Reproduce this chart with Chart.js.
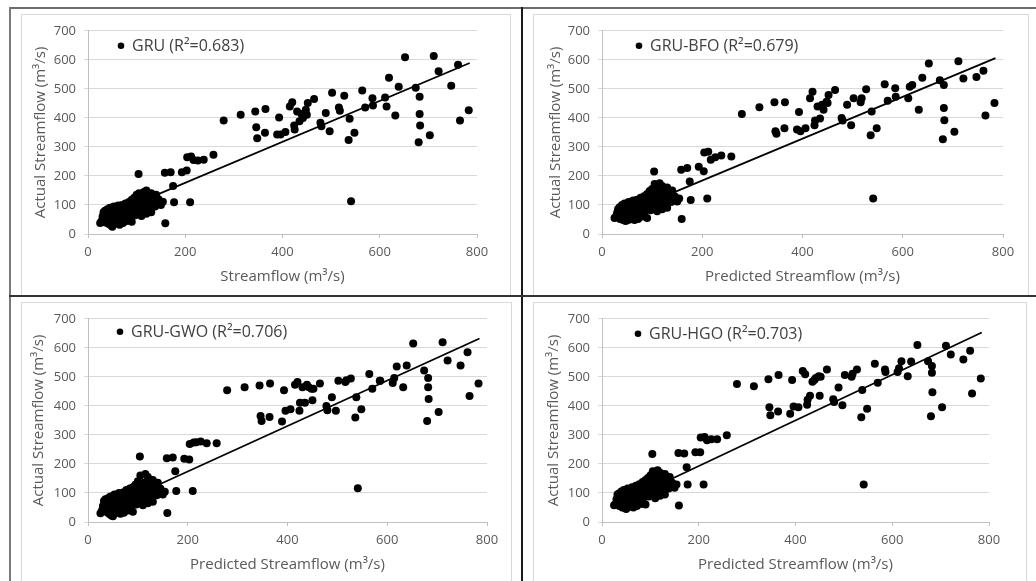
<!DOCTYPE html>
<html>
<head>
<meta charset="utf-8">
<script src="https://cdn.jsdelivr.net/npm/chart.js@4.4.1/dist/chart.umd.min.js"></script>
<style>
  body { margin: 0; background: #fff; width: 1036px; height: 581px; position: relative; overflow: hidden; }
  .line { position: absolute; }
  .box { position: absolute; border: 1px solid #d9d9d9; box-sizing: border-box; }
  canvas { position: absolute; }
</style>
</head>
<body>
<div class="box" style="left:21px;top:14px;width:490px;height:282px"></div>
<div class="box" style="left:533px;top:14px;width:496px;height:282px"></div>
<div class="box" style="left:21px;top:302px;width:491px;height:290px"></div>
<div class="box" style="left:533px;top:302px;width:494px;height:290px"></div>

<canvas id="c1" width="488" height="278" style="left:22px;top:15px"></canvas>
<canvas id="c2" width="494" height="278" style="left:534px;top:15px"></canvas>
<canvas id="c3" width="490" height="278" style="left:22px;top:303px"></canvas>
<canvas id="c4" width="492" height="278" style="left:534px;top:303px"></canvas>

<div class="line" style="left:9px;top:7px;width:1027px;height:2px;background:#6d6d6d"></div>
<div class="line" style="left:9px;top:7px;width:2px;height:574px;background:#7a7a7a"></div>
<div class="line" style="left:521px;top:7px;width:2px;height:574px;background:#1a1a1a"></div>
<div class="line" style="left:9px;top:295px;width:1027px;height:2px;background:#333"></div>

<script>
// dense low-flow cluster, same x for all four models
const clusterX = [25, 28, 30, 32, 33, 35, 36, 38, 40, 40,
  42, 43, 45, 45, 47, 48, 50, 50, 52, 53,
  55, 55, 57, 58, 60, 60, 62, 63, 65, 65,
  67, 68, 70, 70, 72, 73, 75, 75, 77, 78,
  80, 80, 82, 84, 85, 87, 88, 90, 90, 92,
  95, 95, 97, 100, 100, 102, 105, 105, 108, 110,
  110, 112, 115, 115, 118, 120, 120, 122, 125, 125,
  128, 130, 130, 133, 135, 138, 140, 143, 145, 150];

const clusterGRU = [38, 45, 60, 75, 50, 80, 40, 65, 55, 85,
  35, 70, 50, 90, 30, 62, 25, 78, 45, 95,
  35, 68, 88, 52, 40, 75, 98, 60, 32, 85,
  70, 48, 100, 62, 38, 90, 75, 55, 105, 68,
  45, 95, 80, 110, 60, 88, 72, 118, 42, 100,
  80, 125, 65, 110, 135, 90, 140, 75, 120, 100,
  62, 130, 145, 85, 115, 150, 70, 105, 135, 90,
  120, 75, 140, 110, 128, 95, 135, 108, 120, 100];

const clusterBFO = [55, 60, 72, 85, 65, 92, 52, 78, 68, 100,
  48, 82, 62, 105, 45, 75, 47, 92, 58, 110,
  50, 82, 102, 66, 55, 90, 115, 75, 48, 100,
  86, 62, 118, 78, 52, 108, 92, 70, 125, 85,
  60, 112, 98, 130, 78, 105, 90, 138, 55, 120,
  98, 148, 82, 130, 155, 108, 172, 92, 142, 120,
  78, 150, 175, 102, 135, 165, 85, 125, 158, 108,
  140, 90, 160, 128, 148, 110, 150, 122, 130, 112];

const clusterGWO = [30, 40, 55, 72, 45, 78, 35, 62, 50, 82,
  28, 68, 45, 88, 22, 58, 20, 75, 40, 95,
  30, 65, 85, 48, 35, 72, 100, 55, 28, 82,
  68, 42, 102, 58, 32, 92, 72, 50, 110, 65,
  40, 98, 78, 115, 55, 90, 70, 120, 35, 102,
  78, 128, 60, 112, 140, 88, 160, 72, 125, 100,
  58, 135, 165, 82, 118, 155, 65, 105, 140, 88,
  122, 70, 145, 108, 130, 92, 135, 105, 115, 95];

const clusterHGO = [58, 62, 78, 95, 70, 98, 55, 85, 72, 105,
  50, 88, 65, 110, 48, 80, 45, 98, 62, 115,
  52, 85, 108, 70, 58, 95, 120, 80, 50, 105,
  90, 65, 125, 82, 55, 112, 98, 75, 130, 90,
  62, 118, 102, 138, 80, 110, 95, 145, 60, 125,
  102, 152, 88, 135, 160, 112, 175, 95, 148, 125,
  82, 155, 178, 105, 140, 170, 90, 130, 162, 112,
  145, 95, 165, 132, 150, 115, 155, 125, 135, 118];

// spread-out points (mid and high flows)
const spreadX = [279, 314, 344, 346, 348, 365, 364, 393, 389, 396,
  406, 415, 420, 424, 425, 430, 435, 439, 442, 448,
  450, 452, 465, 478, 480, 489, 497, 502, 516, 518,
  527, 538, 536, 541, 548, 564, 570, 585, 586, 611,
  614, 619, 632, 639, 652, 674, 682, 682, 683, 680,
  703, 711, 721, 747, 761, 765, 783,
  104, 158, 170, 175, 177, 159, 193, 203, 204, 212,
  217, 226, 238, 258, 210, 154, 146];

const spreadGRU = [391, 411, 422, 368, 330, 431, 349, 401, 343, 343,
  351, 439, 454, 374, 360, 422, 388, 413, 400, 428,
  411, 451, 465, 383, 371, 417, 354, 487, 436, 425,
  476, 397, 324, 113, 349, 494, 436, 468, 443, 470,
  439, 538, 408, 507, 609, 504, 473, 413, 374, 316,
  340, 613, 561, 511, 583, 391, 426,
  207, 211, 213, 165, 109, 37, 213, 219, 264, 267,
  255, 253, 256, 273, 109, 111, 103];

const spreadBFO = [413, 437, 454, 354, 345, 454, 364, 420, 360, 354,
  364, 468, 490, 375, 391, 439, 398, 445, 428, 456,
  451, 479, 496, 400, 391, 445, 375, 468, 454, 468,
  499, 422, 340, 122, 364, 516, 459, 502, 473, 468,
  507, 513, 428, 538, 587, 530, 513, 434, 392, 326,
  352, 595, 536, 541, 562, 408, 451,
  215, 221, 227, 181, 117, 52, 232, 216, 281, 283,
  256, 264, 270, 267, 122, 122, 117];

const spreadGWO = [454, 464, 470, 365, 348, 477, 362, 454, 346, 383,
  388, 473, 482, 383, 411, 464, 411, 473, 465, 459,
  419, 459, 477, 400, 385, 430, 383, 487, 482, 488,
  494, 430, 360, 116, 388, 510, 459, 487, 487, 479,
  496, 536, 464, 539, 615, 522, 496, 464, 424, 348,
  379, 619, 556, 539, 585, 434, 477,
  226, 220, 222, 175, 107, 31, 218, 215, 269, 274,
  275, 277, 271, 271, 107, 104, 110];

const spreadHGO = [475, 468, 492, 395, 368, 506, 381, 489, 373, 398,
  395, 520, 509, 404, 421, 435, 483, 489, 496, 502,
  435, 500, 525, 423, 413, 463, 402, 506, 500, 511,
  525, 455, 361, 129, 390, 545, 480, 525, 517, 517,
  530, 554, 502, 553, 610, 554, 537, 514, 447, 364,
  395, 607, 577, 560, 590, 443, 494,
  234, 238, 236, 189, 129, 57, 240, 240, 291, 293,
  282, 285, 285, 299, 129, 129, 121];

// linear trendline end points
const trendX = [25, 785];
const trendGRU = [53, 589];
const trendBFO = [58, 606];
const trendGWO = [37, 632];
const trendHGO = [55, 653];

const xTicksMax = 800, yTicksMax = 700;
const grey = '#595959';
const fam = '"Open Sans", "Noto Sans", sans-serif';

// legend drawn inside the plot area, top left
const insideLegend = {
  id: 'insideLegend',
  afterDatasetsDraw(chart, args, opts) {
    const ctx = chart.ctx, area = chart.chartArea;
    const x = area.left + opts.dx, y = area.top + opts.dy;
    ctx.save();
    ctx.fillStyle = '#000';
    ctx.beginPath();
    ctx.arc(x, y, 3.3, 0, Math.PI * 2);
    ctx.fill();
    ctx.fillStyle = '#404040';
    ctx.font = '16px ' + fam;
    ctx.textBaseline = 'middle';
    ctx.fillText(chart.data.datasets[0].label, x + 11, y + 1);
    ctx.restore();
  }
};

function makeChart(id, name, clusterY, spreadY, trendY, xTitle, p) {
  const pts = clusterX.map((x, i) => ({ x: x, y: clusterY[i] }))
    .concat(spreadX.map((x, i) => ({ x: x, y: spreadY[i] })));
  const trend = trendX.map((x, i) => ({ x: x, y: trendY[i] }));

  new Chart(document.getElementById(id), {
    type: 'scatter',
    data: {
      datasets: [
        {
          label: name,
          data: pts,
          backgroundColor: '#000',
          borderColor: '#000',
          borderWidth: 0,
          pointRadius: 4,
          pointHoverRadius: 4
        },
        {
          type: 'line',
          label: 'trend',
          data: trend,
          borderColor: '#000',
          borderWidth: 1.8,
          pointRadius: 0,
          fill: false
        }
      ]
    },
    options: {
      responsive: false,
      animation: false,
      events: [],
      layout: { padding: { left: 0, right: p.right, top: p.top, bottom: 0 } },
      plugins: {
        legend: { display: false },
        tooltip: { enabled: false },
        insideLegend: { dx: p.lx, dy: p.ly }
      },
      scales: {
        x: {
          type: 'linear',
          min: 0,
          max: xTicksMax,
          ticks: { stepSize: 200, color: grey, font: { family: fam, size: 13 }, padding: 6 },
          grid: { drawOnChartArea: false, color: '#bfbfbf', tickLength: 4 },
          border: { color: '#bfbfbf' },
          title: { display: true, text: xTitle, color: grey, font: { family: fam, size: 15 }, padding: { top: 0, bottom: 7 } },
          afterFit: s => { s.height = 59; }
        },
        y: {
          min: 0,
          max: yTicksMax,
          ticks: { stepSize: 100, color: grey, font: { family: fam, size: 13 }, padding: 8 },
          grid: { color: '#d9d9d9', tickLength: 4 },
          border: { color: '#bfbfbf' },
          title: { display: true, text: 'Actual Streamflow (m³/s)', color: grey, font: { family: fam, size: 15 }, padding: { top: p.tp, bottom: 0 } },
          afterFit: s => { s.width = p.left; }
        }
      }
    },
    plugins: [insideLegend]
  });
}

makeChart('c1', 'GRU (R²=0.683)', clusterGRU, spreadGRU, trendGRU, 'Streamflow (m³/s)',
  { left: 66, right: 33, top: 13, tp: 10, lx: 33, ly: 15 });
makeChart('c2', 'GRU-BFO (R²=0.679)', clusterBFO, spreadBFO, trendBFO, 'Predicted Streamflow (m³/s)',
  { left: 68, right: 25, top: 13, tp: 13, lx: 37, ly: 15 });
makeChart('c3', 'GRU-GWO (R²=0.706)', clusterGWO, spreadGWO, trendGWO, 'Predicted Streamflow (m³/s)',
  { left: 66, right: 25, top: 14, tp: 8, lx: 32, ly: 13 });
makeChart('c4', 'GRU-HGO (R²=0.703)', clusterHGO, spreadHGO, trendHGO, 'Predicted Streamflow (m³/s)',
  { left: 68, right: 37, top: 13, tp: 11, lx: 36, ly: 15 });
</script>
</body>
</html>
